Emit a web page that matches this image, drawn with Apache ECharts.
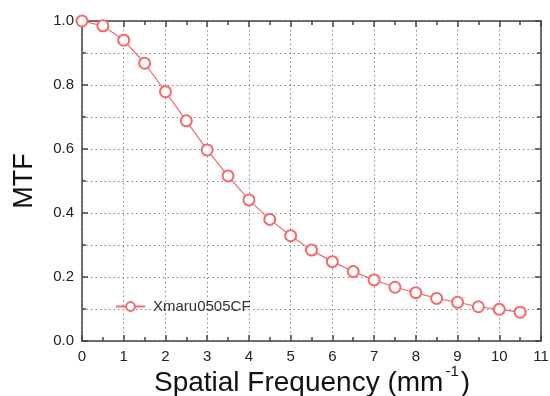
<!DOCTYPE html>
<html><head><meta charset="utf-8">
<script src="https://cdn.jsdelivr.net/npm/echarts@6/dist/echarts.min.js"></script>
<style>html,body{margin:0;padding:0;background:#fff}#c{width:550px;height:396px}</style>
</head><body><div id="c"></div>
<script>
const freq = [0,0.5,1,1.5,2,2.5,3,3.5,4,4.5,5,5.5,6,6.5,7,7.5,8,8.5,9,9.5,10,10.5];
const mtf  = [1.0,0.985,0.940,0.868,0.779,0.688,0.597,0.516,0.441,0.380,0.329,0.284,0.248,0.217,0.191,0.168,0.151,0.133,0.121,0.107,0.099,0.090];
const seriesName = 'Xmaru0505CF';
const xTitle = '{a|Spatial Frequency (mm}{s|-1}{a|)}';
const chart = echarts.init(document.getElementById('c'));
const axisCol = '#444';
const font = 'Liberation Sans, Arial, sans-serif';
const dotted = {show:true, lineStyle:{type:[1.5,3], color:'#888', width:1}};
chart.setOption({
  animation:false,
  backgroundColor:'#fff',
  grid:{left:82, top:21, right:9, bottom:55, containLabel:false, outerBoundsMode:'none'},
  graphic:[{type:'text', x:312, y:381, z:10,
    style:{text:xTitle, align:'center', verticalAlign:'middle',
      rich:{a:{fontFamily:font, fontSize:28, fill:'#111', color:'#111', verticalAlign:'bottom'},
            s:{fontFamily:font, fontSize:15, fill:'#111', color:'#111', verticalAlign:'top', padding:[0,2,18,2]}}}}],
  legend:{show:true, left:110, top:294, itemWidth:29, itemHeight:11, itemGap:5,
    textStyle:{fontFamily:font, fontSize:15, color:'#333', padding:[0,0,0,3]},
    data:[seriesName]},
  xAxis:[{type:'value', min:0, max:11, interval:1, position:'bottom',
    axisLine:{show:true, onZero:false, lineStyle:{color:axisCol, width:1.5}},
    axisTick:{show:true, inside:true, length:6, lineStyle:{color:axisCol, width:1.5}},
    minorTick:{show:true, splitNumber:2, length:4, lineStyle:{color:axisCol, width:1.5}},
    splitLine:dotted,
    axisLabel:{fontFamily:font, fontSize:15, color:'#222', margin:8}
  },{type:'value', min:0, max:11, interval:1, position:'top',
    axisLine:{show:true, onZero:false, lineStyle:{color:axisCol, width:1.5}},
    axisTick:{show:true, inside:true, length:6, lineStyle:{color:axisCol, width:1.5}},
    minorTick:{show:true, splitNumber:2, length:4, lineStyle:{color:axisCol, width:1.5}},
    splitLine:{show:false}, axisLabel:{show:false}}],
  yAxis:[{type:'value', min:0, max:1, interval:0.2, position:'left',
    axisLine:{show:true, onZero:false, lineStyle:{color:axisCol, width:1.5}},
    axisTick:{show:true, inside:true, length:6, lineStyle:{color:axisCol, width:1.5}},
    minorTick:{show:true, splitNumber:2, length:4, lineStyle:{color:axisCol, width:1.5}},
    splitLine:dotted, minorSplitLine:dotted,
    axisLabel:{fontFamily:font, fontSize:15, color:'#222', margin:8, formatter:v=>v.toFixed(1)},
    name:'MTF', nameLocation:'middle', nameGap:44,
    nameTextStyle:{fontFamily:font, fontSize:27, color:'#111'}
  },{type:'value', min:0, max:1, interval:0.2, position:'right',
    axisLine:{show:true, onZero:false, lineStyle:{color:axisCol, width:1.5}},
    axisTick:{show:true, inside:true, length:6, lineStyle:{color:axisCol, width:1.5}},
    minorTick:{show:true, splitNumber:2, length:4, lineStyle:{color:axisCol, width:1.5}},
    splitLine:{show:false}, axisLabel:{show:false}}],
  series:[{name:seriesName, type:'line', xAxisIndex:0, yAxisIndex:0,
    data:freq.map((f,i)=>[f,mtf[i]]),
    symbol:'emptyCircle', symbolSize:11, showAllSymbol:true, clip:false,
    lineStyle:{color:'#f46a6a', width:1.2},
    itemStyle:{color:'#f46a6a', borderColor:'#f46a6a', borderWidth:1.2}}]
});
</script></body></html>
